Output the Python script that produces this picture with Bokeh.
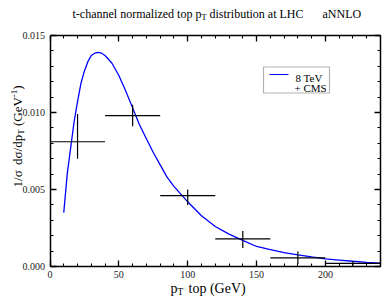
from bokeh.plotting import figure
from bokeh.models import (Range1d, FixedTicker, LinearAxis, CustomJSTickFormatter,
                          Label, BoxAnnotation, NumeralTickFormatter, ColumnDataSource)
from bokeh.embed import file_html
from bokeh.resources import INLINE
from math import pi

# ---- data ----
curve_x = [10, 12.5, 15, 17.5, 20, 22.5, 25, 27.5, 30, 32.5, 35, 37.5, 40, 45, 50, 55, 60, 65,
           70, 75, 80, 85, 90, 95, 100, 110, 120, 130, 140, 150, 160, 170, 180, 190, 200,
           210, 220, 230, 240]
curve_y = [0.0035, 0.0060, 0.0077, 0.0094, 0.0107, 0.0119, 0.0127, 0.0133, 0.0137, 0.01385,
           0.0139, 0.01385, 0.0137, 0.0132, 0.0124, 0.0114, 0.0103, 0.0092,
           0.0083, 0.0074, 0.0066, 0.0058, 0.0052, 0.0047, 0.0042, 0.0033, 0.0026, 0.0021,
           0.0017, 0.0013, 0.0011, 0.0009, 0.00075, 0.00062, 0.0005,
           0.00042, 0.00034, 0.00027, 0.00021]

bin_lo = [0, 40, 80, 120, 160, 200]
bin_hi = [40, 80, 120, 160, 200, 240]
pt_x = [20, 60, 100, 140, 180, 220]
pt_y = [0.0081, 0.0098, 0.0046, 0.0018, 0.00056, 0.0002]
err_lo = [0.0070, 0.0091, 0.0040, 0.0012, 0.00017, 0.00005]
err_hi = [0.0099, 0.0105, 0.0050, 0.0023, 0.00097, 0.00035]

x_limits = [0, 240]
y_limits = [0.0, 0.015]
x_ticks = [0, 50, 100, 150, 200]
x_minor = [0, 10, 20, 30, 40, 50, 60, 70, 80, 90, 100, 110, 120, 130, 140, 150, 160,
           170, 180, 190, 200, 210, 220, 230, 240]
y_ticks = [0.0, 0.005, 0.010, 0.015]
y_minor = [0.0, 0.001, 0.002, 0.003, 0.004, 0.005, 0.006, 0.007, 0.008, 0.009, 0.010,
           0.011, 0.012, 0.013, 0.014, 0.015]

title_main = "t-channel normalized top p"
title_sub = "T"
title_rest = "distribution at LHC"
title_tag = "aNNLO"
legend_lines = ["8 TeV", "+ CMS"]

FONT = "Liberation Serif"

# ---- layout (pixels) ----
W, H = 382, 296
FL, FR, FT, FB = 49.5, 380.0, 35.0, 266.0   # plot box edges in canvas pixels

def extend(lo, hi, a, b, total):
    per = (hi - lo) / (b - a)
    return lo - a * per, hi + (total - b) * per

x0, x1 = extend(x_limits[0], x_limits[1], FL, FR, W)
y0, y1 = extend(y_limits[0], y_limits[1], H - FB, H - FT, H)

p = figure(width=W, height=H, output_backend="svg", toolbar_location=None,
           x_range=Range1d(x0, x1), y_range=Range1d(y0, y1),
           min_border=0, x_axis_location=None, y_axis_location=None)
p.min_border_left = p.min_border_right = p.min_border_top = p.min_border_bottom = 0
p.xgrid.visible = False
p.ygrid.visible = False
p.outline_line_color = None
p.background_fill_color = "white"
p.border_fill_color = "white"

xt = FixedTicker(ticks=x_ticks, minor_ticks=x_minor)
yt = FixedTicker(ticks=y_ticks, minor_ticks=y_minor)

def make_axis(ticker, loc, bounds, labels=True, formatter=None):
    ax = LinearAxis(ticker=ticker, fixed_location=loc, bounds=tuple(bounds))
    ax.axis_line_width = 1.5
    ax.axis_line_color = "black"
    ax.major_tick_in = 6
    ax.major_tick_out = 0
    ax.minor_tick_in = 3
    ax.minor_tick_out = 0
    ax.major_tick_line_width = 1.3
    ax.minor_tick_line_width = 1.1
    ax.major_label_text_font = FONT
    ax.major_label_text_font_size = "10px"
    ax.major_label_text_color = "#222222"
    if labels:
        if formatter is not None:
            ax.formatter = formatter
    else:
        ax.formatter = CustomJSTickFormatter(code="return ''")
        ax.major_label_standoff = 0
    return ax

bx = make_axis(xt, y_limits[0], x_limits)
bx.major_label_standoff = 4
p.add_layout(bx, "below")
p.add_layout(make_axis(xt, y_limits[1], x_limits, labels=False), "above")
ly = make_axis(yt, x_limits[0], y_limits, formatter=NumeralTickFormatter(format="0.000"))
ly.major_label_standoff = 5
p.add_layout(ly, "left")
p.add_layout(make_axis(yt, x_limits[1], y_limits, labels=False), "right")

# curve
p.line(curve_x, curve_y, line_color="#0000ff", line_width=1.3)

# CMS points with error bars
src = ColumnDataSource(dict(x=pt_x, y=pt_y, lo=bin_lo, hi=bin_hi, elo=err_lo, ehi=err_hi))
p.segment(x0="lo", x1="hi", y0="y", y1="y", source=src, line_color="black", line_width=1.2)
p.segment(x0="x", x1="x", y0="elo", y1="ehi", source=src, line_color="black", line_width=1.2)

def lab(text, x, y, size, angle=0.0, align="left", baseline="alphabetic"):
    # x, y in canvas pixels from top-left
    p.add_layout(Label(x=x, y=H - y, x_units="screen", y_units="screen", text=text,
                       text_font=FONT, text_font_size=size, text_color="black",
                       angle=angle, text_align=align, text_baseline=baseline))

# title
lab(title_main, 72, 13, "12px")
lab(title_sub, 201, 16, "8.5px")
lab(title_rest, 209, 13, "12px")
lab(title_tag, 322, 13, "12px")

# y axis label (rotated, reading upward) -- pieces anchored at their centres
def vlab(text, xc, yc, size):
    lab(text, xc, yc, size, angle=pi / 2, align="center", baseline="middle")

vlab("1/\u03c3", 16.6, 178.4, "13px")
vlab("d\u03c3/dp", 16.6, 149.4, "13px")
vlab("T", 20.9, 131.5, "9px")
vlab("(GeV", 16.6, 111.1, "13px")
vlab("-1", 13.0, 92.9, "9px")
vlab(")", 16.6, 87.0, "13px")

# x axis label
lab("p", 170, 288, "14px")
lab("T", 177, 291, "9.5px")
lab("top (GeV)", 188, 288, "14px")

# legend
def sbox(l, r, t, b, **kw):
    p.add_layout(BoxAnnotation(left=l, right=r, top=H - t, bottom=H - b,
                               left_units="screen", right_units="screen",
                               bottom_units="screen", top_units="screen", **kw))

sbox(263, 329, 66.5, 92.5, fill_color="white", fill_alpha=1.0, line_color="black", line_width=1.2)
sbox(269, 288, 73.4, 74.6, fill_color="#0000ff", fill_alpha=1.0, line_color=None)
lab(legend_lines[0], 295, 77.5, "11px")
lab(legend_lines[1], 294, 87.5, "11px")

open("out.html", "w").write(file_html(p, INLINE))
